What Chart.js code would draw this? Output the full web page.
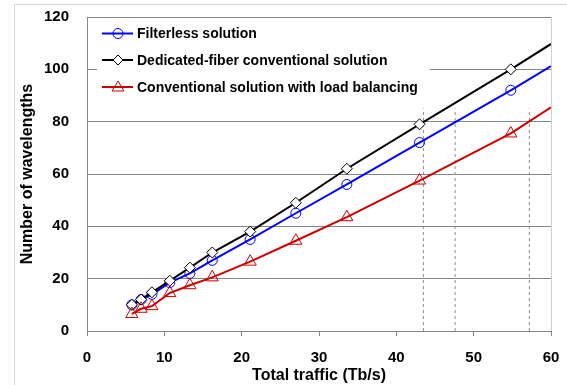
<!DOCTYPE html>
<html>
<head>
<meta charset="utf-8">
<title>Number of wavelengths vs total traffic</title>
<script src="https://cdn.jsdelivr.net/npm/chart.js@4.4.1/dist/chart.umd.min.js"></script>
<style>
    html, body { margin: 0; padding: 0; background: #fff; }
    #wrap { width: 567px; height: 385px; }
</style>
</head>
<body>
<div id="wrap"><canvas id="trafficChart" width="567" height="385"></canvas></div>
<script>
// Values (last point of each series is the line end at 60 Tb/s)
const traffic = [5.8, 7.0, 8.4, 10.7, 13.3, 16.2, 21.1, 27.0, 33.6, 43.0, 54.8, 60];
const filterless = [10, 12, 14, 18.5, 22, 27, 35, 45, 56, 72, 92, 101.2];
const dedicatedFiber = [10, 12, 14.8, 19.2, 24.2, 30, 38, 49, 62, 79, 100, 109.7];
const loadBalancing = [6.5, 8.5, 9.5, 14.5, 17.5, 20.5, 26.5, 34.5, 43.5, 57.5, 75.5, 85.5];

const seriesNames = [
    'Filterless solution',
    'Dedicated-fiber conventional solution',
    'Conventional solution with load balancing'
];

// Dashed guide lines (where each curve reaches 80 wavelengths)
const guideTraffic = [43.5, 47.6, 57.2];
const guideTop = 85;

const xTicks = [0, 10, 20, 30, 40, 50, 60];
const yTicks = [0, 20, 40, 60, 80, 100, 120];

const GRID = '#868686';
const FONT = '"Liberation Sans", Arial, sans-serif';

function toPoints(values) {
    return values.map((v, i) => ({ x: traffic[i], y: v }));
}

// last point (line end) carries no marker
function markerRadius(r) {
    return traffic.map((t, i) => (i === traffic.length - 1 ? 0 : r));
}

/**
 * Draw one legend marker by hand
 */
function drawMarker(ctx, style, x, y, color) {
    ctx.save();
    ctx.strokeStyle = color;
    ctx.lineWidth = 1;
    ctx.beginPath();
    if (style === 'circle') {
        ctx.arc(x, y, 5, 0, Math.PI * 2);
        ctx.stroke();
    } else if (style === 'rectRot') {
        ctx.moveTo(x, y - 5);
        ctx.lineTo(x + 5, y);
        ctx.lineTo(x, y + 5);
        ctx.lineTo(x - 5, y);
        ctx.closePath();
        ctx.fillStyle = '#fff';
        ctx.fill();
        ctx.stroke();
    } else {
        ctx.moveTo(x, y - 6);
        ctx.lineTo(x + 6, y + 4);
        ctx.lineTo(x - 6, y + 4);
        ctx.closePath();
        ctx.stroke();
    }
    ctx.restore();
}

const framePlugin = {
    id: 'frame',
    beforeDraw(chart) {
        const ctx = chart.ctx;
        ctx.save();
        ctx.fillStyle = '#fff';
        ctx.fillRect(0, 0, chart.width, chart.height);
        ctx.strokeStyle = '#d9d9d9';
        ctx.lineWidth = 1;
        ctx.strokeRect(14.5, 4.5, 700, 500);
        ctx.restore();
    },
    afterDraw(chart) {
        const { ctx, chartArea } = chart;
        ctx.save();
        ctx.strokeStyle = '#d0d0d0';
        ctx.lineWidth = 1;
        ctx.beginPath();
        ctx.moveTo(Math.round(chartArea.right) + 0.5, chartArea.top);
        ctx.lineTo(Math.round(chartArea.right) + 0.5, chartArea.bottom);
        ctx.stroke();
        ctx.restore();
    }
};

// Legend sits inside the plot, top-left, with a white box
const insideLegend = {
    id: 'insideLegend',
    afterDatasetsDraw(chart) {
        const ctx = chart.ctx;
        const rowY = [33.5, 60, 87];
        ctx.save();
        ctx.fillStyle = '#fff';
        ctx.fillRect(97, 20, 333, 82);
        ctx.font = 'bold 14px ' + FONT;
        ctx.textBaseline = 'middle';
        ctx.textAlign = 'left';
        seriesNames.forEach((name, i) => {
            const ds = chart.data.datasets[i];
            const y = rowY[i];
            ctx.strokeStyle = ds.borderColor;
            ctx.lineWidth = 2;
            ctx.beginPath();
            ctx.moveTo(102, y);
            ctx.lineTo(133, y);
            ctx.stroke();
            drawMarker(ctx, ds.pointStyle, 118, y, ds.borderColor);
            ctx.fillStyle = '#000';
            ctx.fillText(name, 137, y + 1);
        });
        ctx.restore();
    }
};

const seriesStyle = [
    { data: filterless, color: '#0000ff', style: 'circle', r: 5, fill: 'rgba(0,0,0,0)' },
    { data: dedicatedFiber, color: '#000000', style: 'rectRot', r: 5.5, fill: '#ffffff' },
    { data: loadBalancing, color: '#cc0000', style: 'triangle', r: 7, fill: 'rgba(0,0,0,0)' }
];

const datasets = seriesStyle.map((s, i) => ({
    label: seriesNames[i],
    data: toPoints(s.data),
    showLine: true,
    borderColor: s.color,
    backgroundColor: s.fill,
    borderWidth: 2,
    tension: 0,
    pointStyle: s.style,
    pointRadius: markerRadius(s.r),
    pointBorderColor: s.color,
    pointBackgroundColor: s.fill,
    pointBorderWidth: 1,
    order: 3 - i
}));

guideTraffic.forEach(t => {
    datasets.push({
        label: 'guide',
        data: [{ x: t, y: 0 }, { x: t, y: guideTop }],
        showLine: true,
        borderColor: '#8c8c8c',
        borderWidth: 1,
        borderDash: [3, 3],
        pointRadius: 0,
        order: 10
    });
});

new Chart(document.getElementById('trafficChart'), {
    type: 'scatter',
    data: { datasets },
    plugins: [framePlugin, insideLegend],
    options: {
        responsive: false,
        animation: false,
        layout: { padding: { top: 17, right: 16, left: 0, bottom: 0 } },
        plugins: {
            legend: { display: false },
            tooltip: { enabled: false }
        },
        scales: {
            x: {
                type: 'linear',
                min: 0,
                max: 60,
                afterBuildTicks: scale => { scale.ticks = xTicks.map(v => ({ value: v })); },
                afterFit: scale => {
                    scale.height = 54;
                    scale.paddingLeft = 0;
                    scale.paddingRight = 0;
                },
                ticks: { color: '#000', font: { family: FONT, size: 15, weight: 'bold' }, padding: 13 },
                grid: { drawOnChartArea: false, drawTicks: true, tickLength: 5, color: GRID },
                border: { color: GRID },
                title: {
                    display: true,
                    text: 'Total traffic (Tb/s)',
                    color: '#000',
                    font: { family: FONT, size: 16, weight: 'bold' },
                    padding: { top: 0, bottom: 0 }
                }
            },
            y: {
                min: 0,
                max: 120,
                afterBuildTicks: scale => { scale.ticks = yTicks.map(v => ({ value: v })); },
                afterFit: scale => {
                    scale.width = 87;
                    scale.paddingTop = 0;
                    scale.paddingBottom = 0;
                },
                ticks: { color: '#000', font: { family: FONT, size: 15, weight: 'bold' }, padding: 18 },
                grid: { color: GRID, drawTicks: false },
                border: { color: GRID },
                title: {
                    display: true,
                    text: 'Number of wavelengths',
                    color: '#000',
                    font: { family: FONT, size: 16, weight: 'bold' },
                    padding: { top: 18, bottom: 0 }
                }
            }
        }
    }
});
</script>
</body>
</html>
